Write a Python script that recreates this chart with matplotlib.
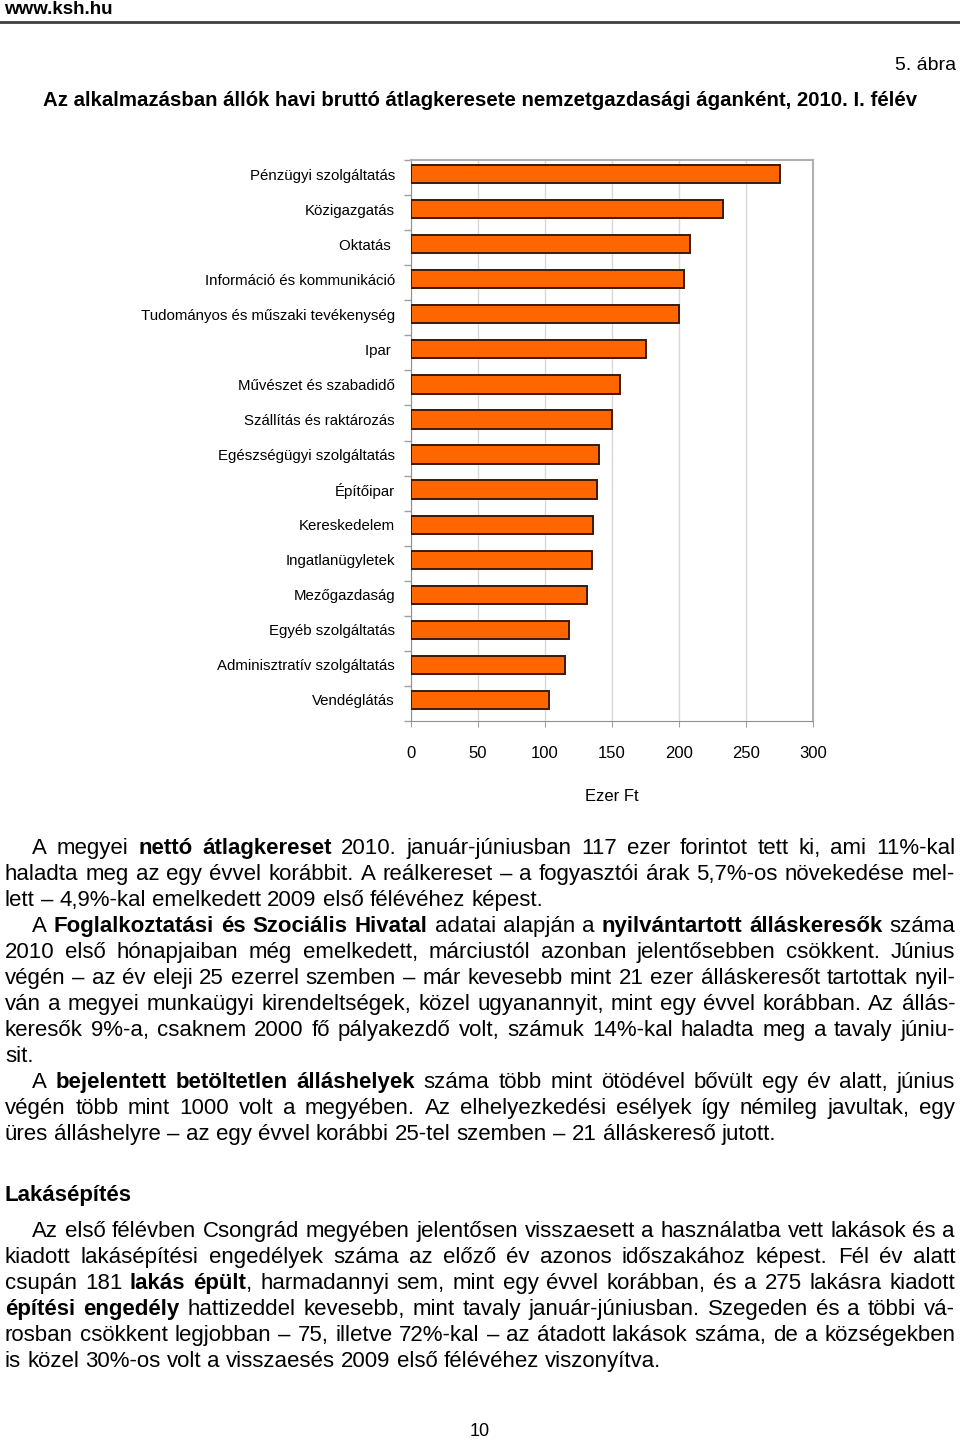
import matplotlib
matplotlib.use('Agg')
import matplotlib.pyplot as plt
from matplotlib.lines import Line2D
from matplotlib.ticker import MultipleLocator, FixedLocator

W, H = 960, 1440

# chart data (ezer Ft)
categories = ['Pénzügyi szolgáltatás', 'Közigazgatás', 'Oktatás ',
              'Információ és kommunikáció', 'Tudományos és műszaki tevékenység',
              'Ipar ', 'Művészet és szabadidő', 'Szállítás és raktározás',
              'Egészségügyi szolgáltatás', 'Építőipar', 'Kereskedelem',
              'Ingatlanügyletek', 'Mezőgazdaság', 'Egyéb szolgáltatás',
              'Adminisztratív szolgáltatás', 'Vendéglátás']
values = [275, 233, 208, 204, 200, 175, 156, 150, 140, 139, 136, 135, 131, 118, 115, 103]
xticks = [0, 50, 100, 150, 200, 250, 300]

title = 'Az alkalmazásban állók havi bruttó átlagkeresete nemzetgazdasági áganként, 2010. I. félév'

# body text: (line, indent, justified); ** marks bold
body_lines = [
    ('A megyei **nettó átlagkereset** 2010. január-júniusban 117 ezer forintot tett ki, ami 11%-kal', True, True),
    ('haladta meg az egy évvel korábbit. A reálkereset – a fogyasztói árak 5,7%-os növekedése mel-', False, True),
    ('lett – 4,9%-kal emelkedett 2009 első félévéhez képest.', False, False),
    ('A **Foglalkoztatási és Szociális Hivatal** adatai alapján a **nyilvántartott álláskeresők** száma', True, True),
    ('2010 első hónapjaiban még emelkedett, márciustól azonban jelentősebben csökkent. Június', False, True),
    ('végén – az év eleji 25 ezerrel szemben – már kevesebb mint 21 ezer álláskeresőt tartottak nyil-', False, True),
    ('ván a megyei munkaügyi kirendeltségek, közel ugyanannyit, mint egy évvel korábban. Az állás-', False, True),
    ('keresők 9%-a, csaknem 2000 fő pályakezdő volt, számuk 14%-kal haladta meg a tavaly júniu-', False, True),
    ('sit.', False, False),
    ('A **bejelentett betöltetlen álláshelyek** száma több mint ötödével bővült egy év alatt, június', True, True),
    ('végén több mint 1000 volt a megyében. Az elhelyezkedési esélyek így némileg javultak, egy', False, True),
    ('üres álláshelyre – az egy évvel korábbi 25-tel szemben – 21 álláskereső jutott.', False, False),
]
body_y = [847, 873, 899, 925, 951, 977, 1003, 1029, 1055, 1081, 1107, 1133]

heading = 'Lakásépítés'
lakas_lines = [
    ('Az első félévben Csongrád megyében jelentősen visszaesett a használatba vett lakások és a', True, True),
    ('kiadott lakásépítési engedélyek száma az előző év azonos időszakához képest. Fél év alatt', False, True),
    ('csupán 181 **lakás épült**, harmadannyi sem, mint egy évvel korábban, és a 275 lakásra kiadott', False, True),
    ('**építési engedély** hattizeddel kevesebb, mint tavaly január-júniusban. Szegeden és a többi vá-', False, True),
    ('rosban csökkent legjobban – 75, illetve 72%-kal – az átadott lakások száma, de a községekben', False, True),
    ('is közel 30%-os volt a visszaesés 2009 első félévéhez viszonyítva.', False, False),
]
lakas_y = [1230, 1256, 1282, 1308, 1334, 1360]

SANS = ['Liberation Sans', 'DejaVu Sans']
plt.rcParams['font.family'] = SANS

fig = plt.figure(figsize=(W / 100, H / 100), dpi=100)


def fx(x):
    return x / W


def fy(y):
    return 1 - y / H


# header
fig.text(fx(4), fy(10), 'www.ksh.hu', fontsize=13.5, fontweight='bold', va='center', ha='left')
fig.add_artist(Line2D([0, 1], [fy(22), fy(22)], color='#404040', lw=2))
fig.text(fx(956), fy(66), '5. ábra', fontsize=14, va='center', ha='right')
fig.text(fx(480), fy(101), title, fontsize=14.7, fontweight='bold', va='center', ha='center')

# chart
ax = fig.add_axes([fx(411), fy(721), fx(813) - fx(411), (721 - 160) / H])
ypos = list(range(len(categories)))
ax.barh(ypos, values, height=0.52, color='#ff6600', edgecolor='#3a1a08', linewidth=1.4, zorder=3)
ax.set_ylim(15.6, -0.4)
ax.set_xlim(0, 300)
ax.xaxis.set_major_locator(FixedLocator(xticks))
ax.grid(axis='x', color='#d8d8d8', lw=1, zorder=0)
ax.set_yticks(ypos)
ax.set_yticklabels(categories, fontsize=10.8)
ax.tick_params(axis='y', which='major', length=0, pad=11.5)
ax.yaxis.set_minor_locator(MultipleLocator(1, offset=0.6))
ax.tick_params(axis='y', which='minor', length=5, color='#a0a0a0', width=1)
ax.set_xticklabels([str(t) for t in xticks], fontsize=12)
ax.tick_params(axis='x', length=4, color='#a0a0a0', pad=14)
ax.set_xlabel('Ezer Ft', fontsize=12, labelpad=20)
for s in ['left', 'bottom']:
    ax.spines[s].set_color('#909090')
for s in ['top', 'right']:
    ax.spines[s].set_color('#b0b0b0')
    ax.spines[s].set_linewidth(1.5)

# body text with justification
renderer = fig.canvas.get_renderer()
FS = 16
BASE = 7  # baseline offset below the line centre, px


def split_words(line):
    # returns list of words, each word a list of (text, bold) runs
    words = []
    cur = []
    for i, part in enumerate(line.split('**')):
        bold = i % 2 == 1
        buf = ''
        for ch in part:
            if ch == ' ':
                if buf:
                    cur.append((buf, bold))
                    buf = ''
                if cur:
                    words.append(cur)
                    cur = []
            else:
                buf += ch
        if buf:
            cur.append((buf, bold))
    if cur:
        words.append(cur)
    return words


def width_of(t):
    return t.get_window_extent(renderer).width


probe1 = fig.text(0, 0, 'x x', fontsize=FS)
probe2 = fig.text(0, 0, 'xx', fontsize=FS)
space_w = width_of(probe1) - width_of(probe2)
probe1.remove()
probe2.remove()


def draw_line(line, y, indent, justify, x0=5, x1=955):
    start = x0 + (27 if indent else 0)
    words = split_words(line)
    items = []
    for runs in words:
        ts = []
        for txt, b in runs:
            t = fig.text(0, fy(y + BASE), txt, fontsize=FS, fontweight='bold' if b else 'normal',
                         va='baseline', ha='left')
            ts.append((t, width_of(t)))
        items.append(ts)
    widths = [sum(w for _, w in ts) for ts in items]
    if justify and len(items) > 1:
        gap = (x1 - start - sum(widths)) / (len(items) - 1)
    else:
        gap = space_w
    x = start
    for ts in items:
        for t, w in ts:
            t.set_x(fx(x))
            x += w
        x += gap


for (line, ind, just), y in zip(body_lines, body_y):
    draw_line(line, y, ind, just)

fig.text(fx(5), fy(1194 + BASE), heading, fontsize=FS, fontweight='bold', va='baseline', ha='left')

for (line, ind, just), y in zip(lakas_lines, lakas_y):
    draw_line(line, y, ind, just)

fig.text(fx(480), fy(1432), '10', fontsize=13, va='center', ha='center')

fig.savefig('out.png', dpi=100)
